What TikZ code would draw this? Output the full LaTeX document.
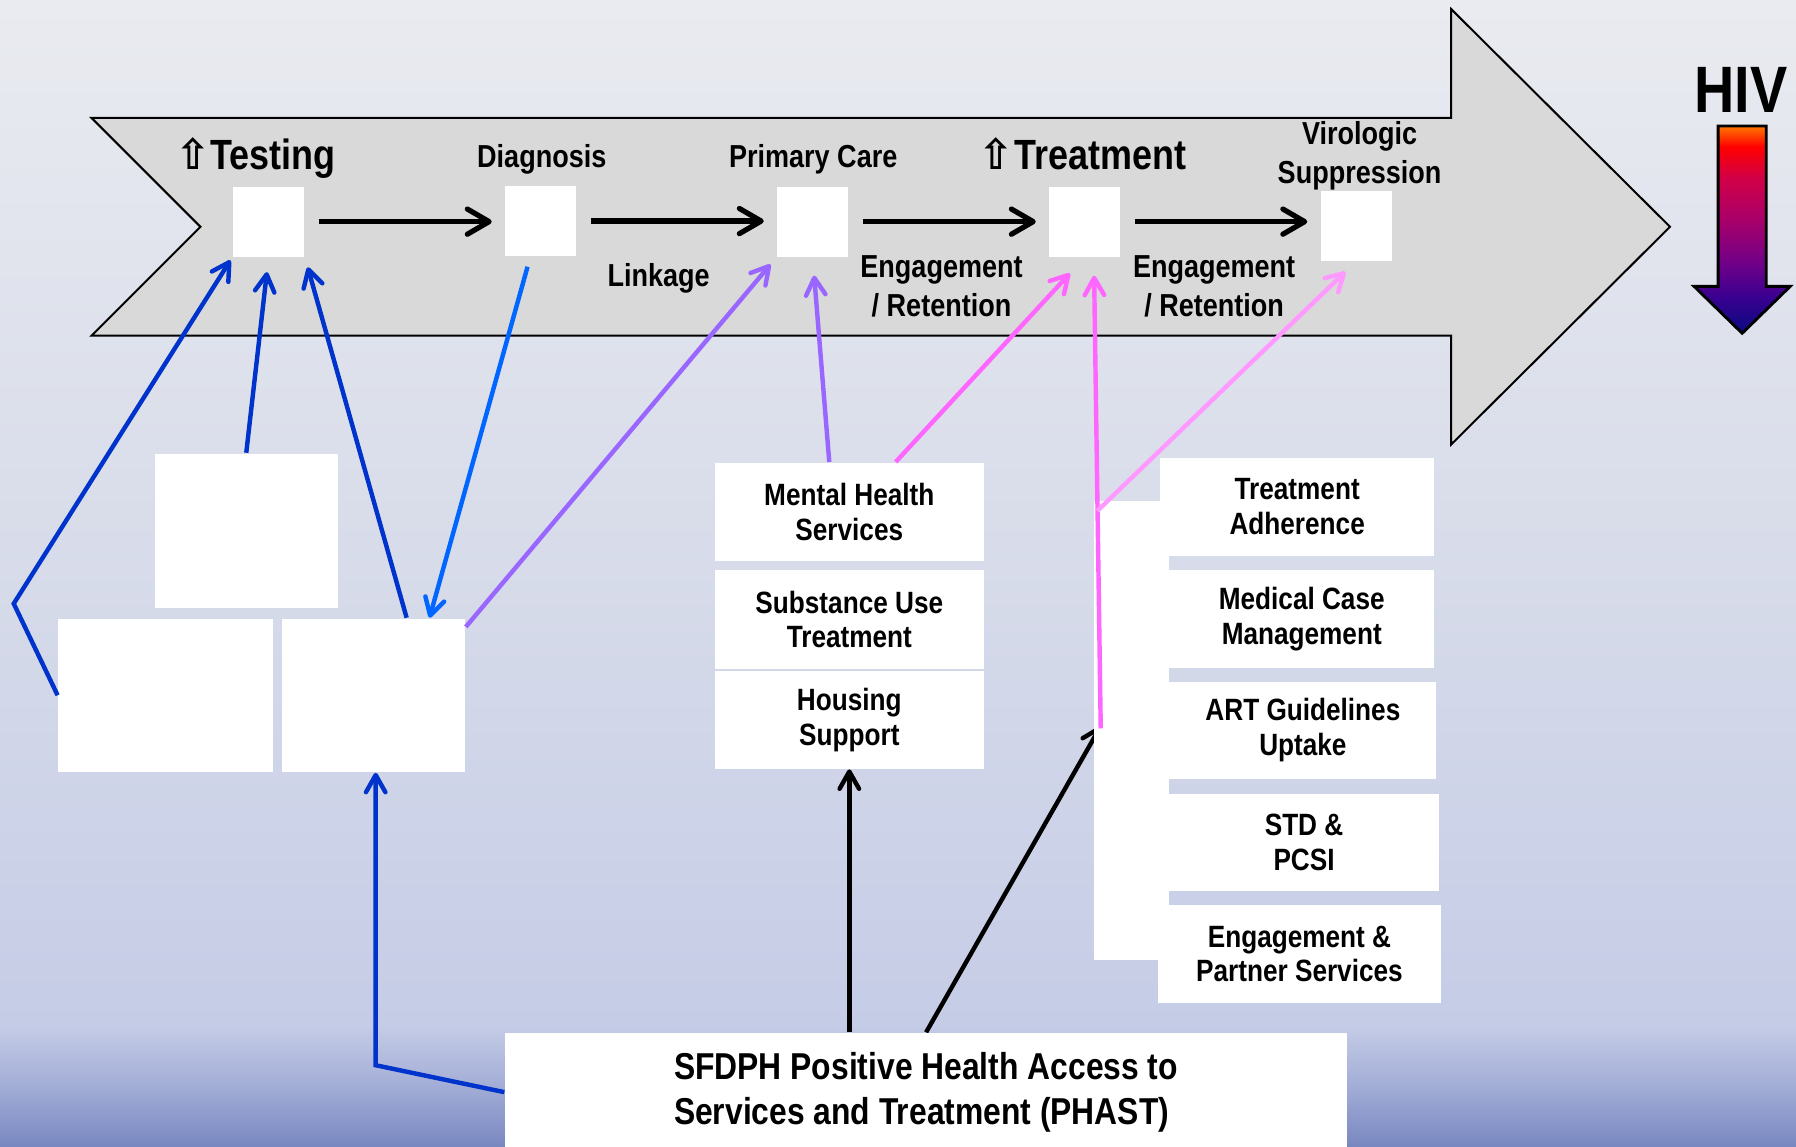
\documentclass[tikz,border=0pt]{standalone}
\usepackage{fontspec}
\setmainfont{Liberation Sans}[FakeStretch=0.85]
\newfontfamily\glyphfont{DejaVu Sans}
\usepackage{xcolor}
\definecolor{stageGray}{HTML}{D9D9D9}
\definecolor{linkBlue}{HTML}{0033CC}
\definecolor{diagBlue}{HTML}{0066FF}
\definecolor{careViolet}{HTML}{9966FF}
\definecolor{treatPink}{HTML}{FF66FF}
\definecolor{viroPink}{HTML}{FF99FF}
\definecolor{bgTop}{HTML}{E9EBF0}
\definecolor{bgMid}{HTML}{D9DDEA}
\definecolor{bgBand}{HTML}{C5CCE6}
\definecolor{bgLow}{HTML}{A8B2D9}
\definecolor{bgBottom}{HTML}{7887C0}
\definecolor{hivOrange}{HTML}{FF7700}
\definecolor{hivRed}{HTML}{FF0000}
\definecolor{hivCrimson}{HTML}{D20046}
\definecolor{hivPlum}{HTML}{A8006A}
\definecolor{hivPurple}{HTML}{700088}
\definecolor{hivIndigo}{HTML}{3A0090}
\definecolor{hivNavy}{HTML}{0A0A80}
\usepackage{tikz}
\usetikzlibrary{arrows.meta,calc}
\pgfdeclarelayer{backdrop}
\pgfdeclarelayer{behind}
\pgfsetlayers{backdrop,behind,main}
\pgfdeclareverticalshading{slidebg}{100bp}{color(0bp)=(bgBottom); color(25bp)=(bgBottom);
    color(28bp)=(bgLow); color(30.3bp)=(bgBand); color(52.5bp)=(bgMid); color(75bp)=(bgTop); color(100bp)=(bgTop)}
\pgfdeclareverticalshading{hivfade}{100bp}{color(0bp)=(hivNavy); color(25bp)=(hivNavy);
    color(33.8bp)=(hivIndigo); color(41.9bp)=(hivPurple); color(52.3bp)=(hivPlum);
    color(62.6bp)=(hivCrimson); color(70bp)=(hivRed); color(75bp)=(hivOrange); color(100bp)=(hivOrange)}
\tikzset{
    stagebox/.style={
        fill=white,
        rectangle,
        minimum width=6.2mm,
        minimum height=6.1mm,
        inner sep=0pt
    },
    stagelabel/.style={
        font=\bfseries\fontsize{7.9}{9.7}\selectfont,
        align=center,
        inner sep=0pt
    },
    biglabel/.style={
        font=\bfseries\fontsize{10.5}{12}\selectfont,
        inner sep=0pt
    },
    blank/.style={
        fill=white,
        rectangle,
        inner sep=0pt
    },
    service/.style={
        fill=white,
        rectangle,
        align=center,
        inner sep=0pt,
        minimum height=8.5mm,
        font=\bfseries\fontsize{7.65}{8.6}\selectfont
    },
    stagearrow/.style={
        -{Straight Barb[length=1.9mm,width=2.2mm,round]},
        line width=1.3pt,
        shorten <=1.2mm,
        shorten >=1.1mm
    },
    feed/.style={
        -{Straight Barb[length=1.5mm,width=1.7mm,round]},
        line width=1.1pt
    }
}

\begin{document}
\begin{tikzpicture}[x=0.1mm,y=-0.1mm]
    \useasboundingbox (0,0) rectangle (1568,1001);
    \begin{pgfonlayer}{backdrop}
        \shade[shading=slidebg] (0,0) rectangle (1568,1001);
    \end{pgfonlayer}

    % continuum arrow
    \draw[fill=stageGray, line width=0.5pt] (80,103) -- (1267,103) -- (1267,8) -- (1458,198)
        -- (1267,388) -- (1267,293) -- (80,293) -- (175,198) -- cycle;

    % stage boxes
    \foreach \n/\x/\y in {testbox/234.5/193.5, diagbox/472/193, carebox/709.5/193.5,
        treatbox/947/193.5, virobox/1184/197} {
        \node[stagebox] (\n) at (\x,\y) {};
    }
    \foreach \a/\b in {testbox/diagbox, diagbox/carebox, carebox/treatbox, treatbox/virobox} {
        \draw[stagearrow] (\a.east) -- (\a.east -| \b.west);
    }

    % stage labels
    \node[biglabel, anchor=base] (testlbl) at (223,148) {{\glyphfont ⇧}Testing};
    \node[stagelabel, anchor=base] (diaglbl) at (473,146) {Diagnosis};
    \node[stagelabel, anchor=base] (carelbl) at (710,146) {Primary Care};
    \node[biglabel, anchor=base] (treatlbl) at (945,148) {{\glyphfont ⇧}Treatment};
    \node[stagelabel] (virolbl) at (1187,136) {Virologic\\Suppression};
    \node[stagelabel, anchor=base] (linklbl) at (575,250) {Linkage};
    \node[stagelabel] (retainA) at (822,250) {Engagement\\/ Retention};
    \node[stagelabel] (retainB) at (1060,250) {Engagement\\/ Retention};

    % HIV going down
    \node[font=\bfseries\fontsize{16.3}{18}\selectfont, inner sep=0pt, anchor=base] (hivlbl) at (1520,98) {HIV};
    \shadedraw[shading=hivfade, line width=0.7pt] (1500,110) -- (1542,110) -- (1542,250) -- (1563,250)
        -- (1521,291) -- (1479,250) -- (1500,250) -- cycle;

    % testing sites
    \node[blank, minimum width=16mm, minimum height=13.5mm] (boxA) at (215,463.5) {};
    \node[blank, minimum width=18.7mm, minimum height=13.4mm] (boxB) at (144.5,607) {};
    \node[blank, minimum width=16mm, minimum height=13.4mm] (boxC) at (326,607) {};

    % support services
    \node[service, minimum width=23.5mm, minimum height=8.6mm] (mental) at (741.5,447) {Mental Health\\Services};
    \node[service, minimum width=23.5mm, minimum height=8.6mm] (substance) at (741.5,541) {Substance Use\\Treatment};
    \node[service, minimum width=23.5mm] (housing) at (741.5,628.5) {Housing\\Support};

    % PHAST
    \node[blank, minimum width=73.5mm, minimum height=10.3mm, align=left,
        font=\bfseries\fontsize{9.3}{11.1}\selectfont] (phast) at (808.5,953.5)
        {SFDPH Positive Health Access to\\Services and Treatment (PHAST)};

    % black feed drawn under the column
    \coordinate (svcdock) at (961,634);
    \begin{pgfonlayer}{behind}
        \draw[feed, black] (phast.north) -- (svcdock);
    \end{pgfonlayer}

    % treatment services
    \node[blank, minimum width=6.6mm, minimum height=40.1mm] (svcback) at (988,637.5) {};
    \node[service, minimum width=23.9mm] (adherence) at (1132.5,442.5) {Treatment\\Adherence};
    \node[service, minimum width=23.1mm] (casemgmt) at (1136.5,540.5) {Medical Case\\Management};
    \node[service, minimum width=23.3mm] (artuptake) at (1137.5,637.5) {ART Guidelines\\Uptake};
    \node[service, minimum width=23.5mm] (stdpcsi) at (1138.5,735.5) {STD \&\\PCSI};
    \node[service, minimum width=24.7mm, minimum height=8.6mm] (partner) at (1134.5,833) {Engagement \&\\Partner Services};

    % feeds into testing
    \coordinate (bendL) at (12,527);
    \coordinate (bendC) at (328,930);
    \draw[feed, linkBlue, shorten >=0.3mm] (boxB.west) -- (bendL) -- (testbox.south west);
    \draw[feed, linkBlue, shorten >=1.3mm] (boxA.north) -- (testbox.south);
    \draw[feed, linkBlue, shorten >=0.9mm] ([xshift=2.9mm]boxC.north) -- (testbox.south east);
    \draw[feed, linkBlue] (phast.west) -- (bendC) -- (bendC |- boxC.south);
    \draw[feed, diagBlue, shorten <=0.9mm] ([xshift=-0.9mm]diagbox.south) -- ([xshift=4.9mm]boxC.north);

    % feeds into care and treatment
    \draw[feed, careViolet, shorten >=0.8mm] ([yshift=-0.8mm]boxC.north east) -- (carebox.south west);
    \draw[feed, careViolet, shorten >=1.6mm] ([xshift=-1.75mm]mental.north) -- (carebox.south);
    \draw[feed, treatPink, shorten >=1.9mm] ([xshift=4.05mm]mental.north) -- (treatbox.south);
    \draw[feed, black] (housing.south |- phast.north) -- (housing.south);

    \coordinate (hub) at (961,636);
    \coordinate (split) at (958,446);
    \draw[feed, treatPink, shorten >=1.6mm] (hub) -- ([xshift=0.8mm]treatbox.south);
    \draw[feed, viroPink, shorten >=1.3mm] (split) -- (virobox.south);
\end{tikzpicture}
\end{document}
